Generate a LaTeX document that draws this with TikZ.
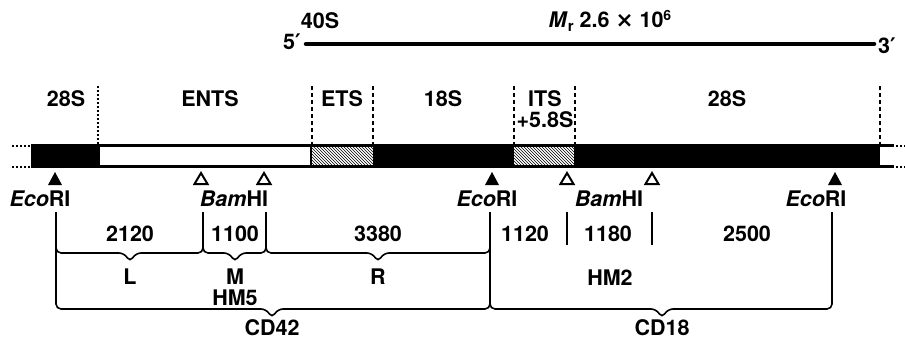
\documentclass[tikz,border=0pt]{standalone}
\usepackage{fontspec}
\setmainfont{TeX Gyre Heros}
\newfontfamily\djv{DejaVu Sans}
\usetikzlibrary{patterns}
\newcommand{\hbr}[5]{% x1, x2, tip, y, ytop
  \draw[bracestyle] (#1,#5) -- (#1,#4) -- (#3-6,#4) -- (#3,#4+9) -- (#3+6,#4) -- (#2,#4) -- (#2,#5);}
\begin{document}
\begin{tikzpicture}[x=1pt,y=-1pt,
  lbl/.style={font=\fontsize{21.5}{24}\selectfont\bfseries, inner sep=0pt},
  bracestyle/.style={line width=1.6pt, rounded corners=5pt},
  tick/.style={line width=1.6pt},
  sep/.style={line width=1.6pt, dash pattern=on 4pt off 3pt},
  sepdot/.style={line width=1.6pt, dash pattern=on 1.5pt off 2.5pt},
  barline/.style={line width=2.4pt},
  fullsite/.style={fill=black},
  opensite/.style={draw=black, line width=2pt, fill=white, line join=miter}]
\useasboundingbox (0,0) rectangle (905,340);
% ---- top: 40S precursor
\coordinate (r5) at (306,44);
\coordinate (r3) at (874,44);
\draw[line width=4.5pt, line cap=round] (r5) -- (r3);
\node[lbl] (five) at (292,42) {5{\djv\bfseries ′}};
\node[lbl] (three) at (887,46) {3{\djv\bfseries ′}};
\node[lbl] (s40) at (320,21) {40S};
\node[lbl] (mr) at (610,21) {\textit{M}\raisebox{-0.35ex}{\fontsize{15}{15}\selectfont r} 2.6 {\djv ×} 10\raisebox{0.6ex}{\fontsize{14}{14}\selectfont 6}};
% ---- region separators
\coordinate (d0) at (98,86);  \coordinate (d0b) at (98,145);
\coordinate (d1) at (312,86); \coordinate (d1b) at (312,145);
\coordinate (d2) at (373,86); \coordinate (d2b) at (373,145);
\coordinate (d3) at (514,86); \coordinate (d3b) at (514,145);
\coordinate (d4) at (575,86); \coordinate (d4b) at (575,145);
\coordinate (d5) at (880,86); \coordinate (d5b) at (880,145);
\draw[sepdot] (d0) -- (d0b);
\draw[sep] (d1) -- (d1b);
\draw[sep] (d2) -- (d2b);
\draw[sep] (d3) -- (d3b);
\draw[sep] (d4) -- (d4b);
\draw[sep] (d5) -- (d5b);
\node[lbl] (t28a) at (66,99) {28S};
\node[lbl] (tents) at (210,99) {ENTS};
\node[lbl] (tets) at (342,99) {ETS};
\node[lbl] (t18) at (443,99) {18S};
\node[lbl] (tits) at (545,99) {ITS};
\node[lbl] (t58) at (545,120) {+5.8S};
\node[lbl] (t28b) at (727,99) {28S};
% ---- the bar
\fill (31,145) rectangle (100,167);
\fill[white] (100,145) rectangle (311,167);
\fill[pattern=north west lines] (311,145) rectangle (373,167);
\fill (373,145) rectangle (514,167);
\fill[pattern=north west lines] (514,145) rectangle (574,167);
\fill (574,145) rectangle (880,167);
\draw[barline] (31,145.5) -- (894,145.5);
\draw[barline] (31,166.5) -- (894,166.5);
\draw[line width=1.5pt] (311,145) -- (311,167);
\draw[line width=2pt, dash pattern=on 2pt off 2pt] (12,145.5) -- (30,145.5);
\draw[line width=2pt, dash pattern=on 2pt off 2pt] (12,166.5) -- (30,166.5);
\draw[line width=2pt, dash pattern=on 2pt off 2pt] (896,145.5) -- (905,145.5);
\draw[line width=2pt, dash pattern=on 2pt off 2pt] (896,166.5) -- (905,166.5);
% ---- restriction sites
\fill[fullsite] (48,185) -- (62,185) -- (55,172) -- cycle;
\draw[opensite] (194.5,184) -- (207.5,184) -- (201,173) -- cycle;
\draw[opensite] (257.5,184) -- (270.5,184) -- (264,173) -- cycle;
\fill[fullsite] (485,185) -- (499,185) -- (492,172) -- cycle;
\draw[opensite] (560.5,184) -- (573.5,184) -- (567,173) -- cycle;
\draw[opensite] (645.5,184) -- (658.5,184) -- (652,173) -- cycle;
\fill[fullsite] (828,185) -- (842,185) -- (835,172) -- cycle;
\node[lbl] (eco1) at (40,199) {\textit{Eco}RI};
\node[lbl] (bam1) at (234,199) {\textit{Bam}HI};
\node[lbl] (eco2) at (487,199) {\textit{Eco}RI};
\node[lbl] (bam2) at (609,199) {\textit{Bam}HI};
\node[lbl] (eco3) at (816,199) {\textit{Eco}RI};
% ---- fragments
\draw[tick] (567,212) -- (567,245);
\draw[tick] (652,212) -- (652,245);
\hbr{56}{203}{130}{253}{212}
\hbr{203}{266}{235}{253}{212}
\hbr{266}{490}{378}{253}{212}
\hbr{56}{490}{272}{309}{212}
\hbr{490}{832}{662}{309}{212}
\node[lbl] (n2120) at (130,234) {2120};
\node[lbl] (n1100) at (235,234) {1100};
\node[lbl] (n3380) at (378,234) {3380};
\node[lbl] (n1120) at (525,234) {1120};
\node[lbl] (n1180) at (608,234) {1180};
\node[lbl] (n2500) at (747,234) {2500};
\node[lbl] (fl) at (130,277) {L};
\node[lbl] (fm) at (235,277) {M};
\node[lbl] (fr) at (378,277) {R};
\node[lbl] (hm5) at (235,298) {HM5};
\node[lbl] (hm2) at (610,278) {HM2};
\node[lbl] (cd42) at (272,328) {CD42};
\node[lbl] (cd18) at (662,328) {CD18};
\end{tikzpicture}
\end{document}
